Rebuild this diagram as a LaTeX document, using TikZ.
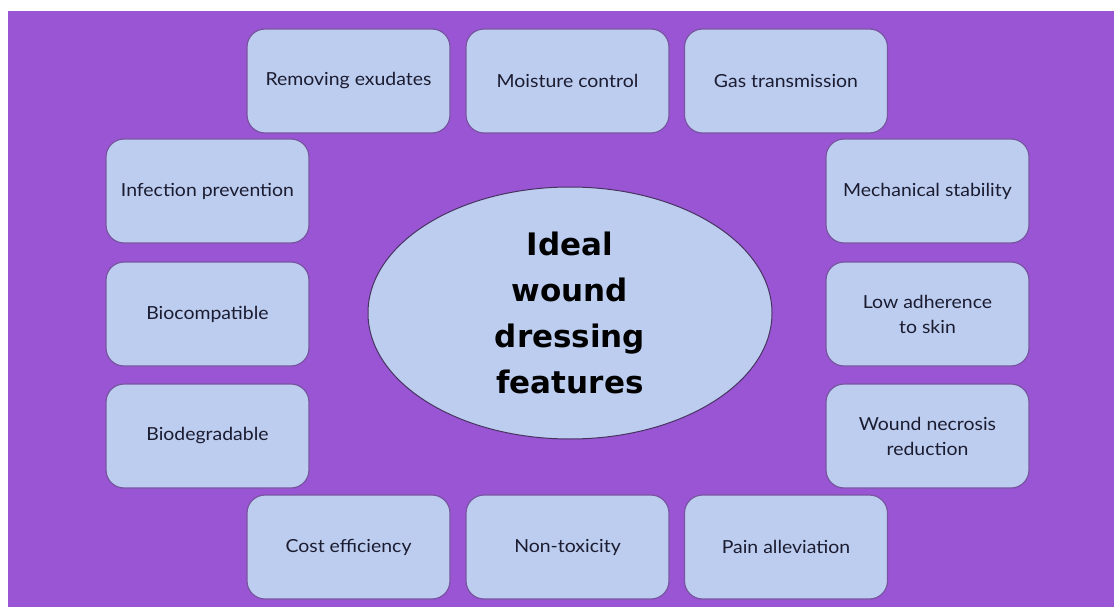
\documentclass[tikz,border=0pt]{standalone}
\usepackage{fontspec}
\setmainfont{Lato}[FakeStretch=1.08]
\newfontfamily\hubfont{DejaVu Sans}
\usetikzlibrary{shapes.geometric}
\definecolor{bgpurple}{RGB}{153,85,212}
\definecolor{boxfill}{RGB}{188,205,240}
\definecolor{boxline}{RGB}{120,85,160}
\definecolor{txt}{RGB}{28,28,48}
\begin{document}
\begin{tikzpicture}[x=1pt,y=-1pt,
  feat/.style={draw=boxline, line width=1.2pt, fill=boxfill, rounded corners=18pt,
    minimum width=203pt, minimum height=104pt, align=center, text=txt,
    font=\fontsize{18}{25}\selectfont, inner sep=0pt},
  hub/.style={draw=boxline!60!black, line width=1pt, fill=boxfill, ellipse,
    minimum width=404pt, minimum height=252pt, inner sep=0pt, align=center, text=black,
    font=\hubfont\fontsize{31}{46}\selectfont\bfseries}]
\useasboundingbox (0,0) rectangle (1114,607);
\fill[white] (0,0) rectangle (1114,607);
\fill[bgpurple] (8,11) rectangle (1114,607);
\node[feat] (rem) at (348.5,81) {Removing exudates};
\node[feat] (moi) at (567.5,81) {Moisture control};
\node[feat] (gas) at (786,81) {Gas transmission};
\node[feat] (inf) at (207.5,191) {Infection prevention};
\node[feat] (bcp) at (207.5,314) {Biocompatible};
\node[feat] (bdg) at (207.5,436) {Biodegradable};
\node[feat] (mec) at (927.5,191) {Mechanical stability};
\node[feat] (low) at (927.5,314) {Low adherence\\to skin};
\node[feat] (nec) at (927.5,436) {Wound necrosis\\reduction};
\node[feat] (cst) at (348.5,547) {Cost efficiency};
\node[feat] (ntx) at (567.5,547) {Non-toxicity};
\node[feat] (pai) at (786,547) {Pain alleviation};
\node[hub] (hub) at (570,313) {Ideal\\wound\\dressing\\features};
\end{tikzpicture}
\end{document}
